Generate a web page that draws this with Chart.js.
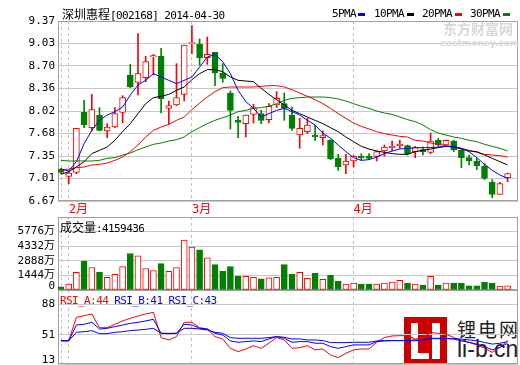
<!DOCTYPE html>
<html>
<head>
<meta charset="utf-8">
<script src="https://cdn.jsdelivr.net/npm/chart.js@4.4.1/dist/chart.umd.min.js"></script>
<style>
body { margin: 0; width: 520px; height: 365px; overflow: hidden; background: #fff; position: relative; }
canvas { position: absolute; left: 0; z-index: 1; }
.t { position: absolute; white-space: nowrap; font-family: 'DejaVu Sans Mono', monospace; font-size: 11px; line-height: 13px; letter-spacing: -0.6px; z-index: 2; }
.cjk { font-family: 'Noto Sans CJK SC', sans-serif; font-size: 12px; letter-spacing: 0; }
.mk { position: absolute; width: 7px; height: 3px; top: 13px; z-index: 2; }
.logo { position: absolute; z-index: 0; }
</style>
</head>
<body>

<div class="t" style="left:62px;top:7px"><span class="cjk">深圳惠程</span>[002168] 2014-04-30</div>
<div class="t" style="left:332px;top:7px">5PMA</div><div class="mk" style="left:358px;background:#0000ff"></div>
<div class="t" style="left:374px;top:7px">10PMA</div><div class="mk" style="left:407px;background:#000"></div>
<div class="t" style="left:422px;top:7px">20PMA</div><div class="mk" style="left:455px;background:#ff0000"></div>
<div class="t" style="left:470px;top:7px">30PMA</div><div class="mk" style="left:503px;background:#008000"></div>
<div class="t" style="left:443px;top:22px;font-family:'Noto Sans CJK SC';font-size:14px;font-weight:bold;letter-spacing:0;color:#d8d8d8">东方财富网</div>
<div class="t" style="left:440px;top:37px;font-family:'DejaVu Sans';font-size:9px;font-weight:bold;letter-spacing:0;color:#d8d8d8">eastmoney.com</div>

<div class="t" style="left:60px;top:220px"><span class="cjk">成交量</span>:4159436</div>
<div class="t" style="left:60px;top:294px"><span style="color:#ff0000">RSI_A:44</span> <span style="color:#0000ff">RSI_B:41 RSI_C:43</span></div>

<div class="logo" style="left:404px;top:317px;width:43px;height:48px;background:#cc0000"></div>
<div class="logo" style="left:411px;top:323px;width:7px;height:36px;background:#fff"></div>
<div class="logo" style="left:411px;top:353px;width:18px;height:6px;background:#fff"></div>
<div class="logo" style="left:432px;top:323px;width:8px;height:36px;background:#fff"></div>
<div class="logo" style="left:457px;top:315px;font-family:'Noto Sans CJK SC';font-size:19px;letter-spacing:2px;color:#222;white-space:nowrap">锂电网</div>
<div class="logo" style="left:457px;top:336px;font-family:'Liberation Sans';font-size:23px;color:#222;white-space:nowrap">li-b.cn</div>

<canvas id="price" width="520" height="218" style="top:0"></canvas>
<canvas id="vol" width="520" height="97" style="top:205px"></canvas>
<canvas id="rsi" width="520" height="98" style="top:278px"></canvas>

<script>
// daily candles, 2014-01-30 .. 2014-04-30
var openP  = [7.15,7.04,7.10,8.00,7.77,7.96,7.72,7.78,8.00,8.56, 8.45,8.52,8.83,8.84,8.06,8.11,8.27,9.03,9.02,8.82,
              8.90,8.59,8.29,7.88,7.83,7.97,7.98,7.89,8.11,8.13, 7.96,7.66,7.71,7.66,7.62,7.58,7.31,7.21,7.27,7.34,
              7.34,7.34,7.42,7.47,7.50,7.50,7.41,7.44,7.40,7.58, 7.51,7.57,7.43,7.32,7.27,7.19,6.95,6.77,7.02];
var highP  = [7.16,7.12,7.76,8.18,8.27,8.07,7.83,8.07,8.25,8.72, 9.18,8.84,8.87,8.96,8.17,8.73,9.01,9.30,9.10,9.13,
              8.90,8.73,8.32,7.94,7.96,8.12,8.03,8.13,8.31,8.29, 8.08,7.91,7.91,7.81,7.72,7.59,7.37,7.37,7.35,7.38,
              7.38,7.42,7.51,7.57,7.58,7.51,7.49,7.48,7.69,7.61, 7.58,7.58,7.44,7.36,7.31,7.23,6.99,6.95,7.09];
var lowP   = [7.08,6.93,7.08,7.77,7.72,7.72,7.62,7.77,7.84,8.37, 8.26,8.46,8.56,7.99,7.82,8.10,8.17,8.88,8.71,8.72,
              8.40,8.45,7.75,7.62,7.63,7.84,7.83,7.84,8.07,7.88, 7.73,7.46,7.68,7.58,7.51,7.29,7.13,7.08,7.18,7.28,
              7.29,7.27,7.34,7.42,7.46,7.36,7.32,7.36,7.38,7.49, 7.48,7.41,7.17,7.21,7.14,6.99,6.72,6.77,6.96];
var closeP = [7.10,7.09,7.76,7.81,8.04,7.73,7.78,7.98,8.22,8.38, 8.58,8.76,8.85,8.20,8.10,8.22,9.01,9.04,8.82,8.87,
              8.59,8.51,8.03,7.85,7.96,8.07,7.88,8.09,8.21,8.06, 7.76,7.76,7.81,7.63,7.65,7.30,7.18,7.27,7.34,7.32,
              7.31,7.41,7.48,7.49,7.52,7.38,7.47,7.41,7.57,7.51, 7.58,7.44,7.32,7.27,7.20,7.01,6.77,6.93,7.08];

var ma5  = [7.15,7.12,7.26,7.53,7.73,7.88,7.96,8.01,8.08,8.26, 8.41,8.48,8.58,8.53,8.48,8.43,8.48,8.53,8.68,8.83,
            8.87,8.76,8.58,8.33,8.16,8.06,7.93,7.98,8.03,8.06, 8.01,7.96,7.88,7.81,7.69,7.61,7.51,7.41,7.32,7.28,
            7.29,7.33,7.38,7.42,7.45,7.46,7.47,7.47,7.47,7.48, 7.49,7.49,7.46,7.41,7.32,7.22,7.13,7.06,7.01];
var ma10 = [7.07,7.11,7.18,7.26,7.38,7.43,7.48,7.58,7.71,7.83, 7.98,8.13,8.22,8.24,8.27,8.33,8.38,8.49,8.58,8.64,
            8.64,8.61,8.53,8.48,8.47,8.46,8.36,8.27,8.19,8.11, 8.03,7.98,7.93,7.88,7.83,7.77,7.71,7.63,7.56,7.49,
            7.45,7.42,7.40,7.38,7.37,7.37,7.41,7.43,7.45,7.47, 7.49,7.48,7.45,7.42,7.41,7.36,7.31,7.26,7.21];
var ma20 = [7.13,7.15,7.17,7.18,7.21,7.22,7.24,7.28,7.33,7.41, 7.51,7.63,7.73,7.78,7.82,7.88,7.93,8.04,8.14,8.23,
            8.31,8.37,8.38,8.38,8.38,8.38,8.39,8.40,8.40,8.38, 8.34,8.29,8.24,8.19,8.13,8.06,7.98,7.91,7.84,7.79,
            7.75,7.71,7.68,7.66,7.64,7.63,7.58,7.57,7.54,7.52, 7.50,7.48,7.46,7.43,7.40,7.37,7.36,7.35,7.33];
var ma30 = [7.28,7.27,7.27,7.27,7.27,7.28,7.31,7.32,7.36,7.39, 7.44,7.48,7.52,7.54,7.57,7.59,7.63,7.71,7.77,7.83,
            7.88,7.92,7.96,8.01,8.03,8.06,8.07,8.09,8.13,8.18, 8.21,8.22,8.23,8.23,8.23,8.22,8.20,8.17,8.13,8.09,
            8.06,8.02,7.99,7.97,7.93,7.89,7.86,7.81,7.74,7.69, 7.66,7.63,7.61,7.58,7.56,7.52,7.49,7.46,7.42];

// volume in 万 shares
var volume = [321,578,1733,2824,2214,1733,1251,1540,2310,3594, 3370,2118,1925,2599,1829,2214,4910,4236,3947,3177,
              2503,1829,2310,1348,1348,1251,1091,1187,1251,2503, 1540,1733,1155,1637,1059,1444,866,578,674,578,
              578,578,674,770,963,674,578,481,1348,481, 674,674,674,417,417,770,674,385,416];

var rsiA = [44,44,72.3,74.3,76.3,59.8,59.8,63.9,67.9,71.1, 73.9,76.3,78.3,47.8,45,49,66.3,66.3,59.8,58.2,
            49,46.2,34.9,30.9,34.1,38.1,34.9,41,47.8,45, 34.9,35.7,38.1,33,34.1,26.9,23.7,28.9,33,34.1,
            34.1,42.2,47.8,49.8,50.2,50,46,48,54,53, 52,48,44,42,39,35,30,36,44];
var rsiB = [44,44,63,63.9,66.3,58.2,59,61,63,65, 66.3,67.9,69.9,53,52.6,53,63.9,63,59,58.2,
            53,51,43.8,42.2,43,43.8,43,46.2,49,47, 42.2,43,43,41,41,37,34.9,37,39,39,
            39,43,43.8,44.2,44.2,44,44,45,47,47, 47,46,44,42,40,37,33,36,41];
var rsiC = [44,44,54.2,55,56.2,52.6,52.6,54.2,55,56.2, 57,57.8,59,53,53,53,59,59,58.2,57,
            54.2,53,47.8,47,47,47,47,47.8,49,48.2, 46.2,46.2,45,45,44.2,41.8,41.8,41.8,42.2,42.2,
            42.2,43.8,44.2,44.2,44.2,44.5,45,45,46.5,46.5, 46.5,46.5,46,45,44,42,40,41,43];

// axis ticks
var monthTickPos = [0, 1, 17, 38];
var monthLabels = ['', '2月', '3月', '4月'];
var priceTickVals = [6.67, 7.0075, 7.345, 7.6825, 8.02, 8.3575, 8.695, 9.0325, 9.37];
var priceTickLabels = ['6.67', '7.01', '7.35', '7.68', '8.02', '8.36', '8.70', '9.03', '9.37'];
var volTickVals = [0, 1444, 2888, 4332, 5776];
var volTickLabels = [['0', ''], '1444万', '2888万', '4332万', '5776万'];
var rsiTickVals = [16, 51, 88];
var rsiTickLabels = [['13', ''], '51', '88'];

var RED = '#ff0000', GREEN = '#008000', BLUE = '#0000ff';

Chart.defaults.font.family = "'DejaVu Sans Mono', 'Noto Sans CJK SC', monospace";
Chart.defaults.font.size = 11;
Chart.defaults.color = '#000';

var up = closeP.map(function (c, i) { return c >= openP[i]; });
var fill = up.map(function (u) { return u ? '#ffffff' : GREEN; });
var edge = up.map(function (u) { return u ? RED : GREEN; });

function pts(arr) {
    return arr.map(function (v, i) { return { x: i, y: v }; });
}

var framePlugin = {
    id: 'frame',
    beforeDatasetsDraw: function (chart) {
        var a = chart.chartArea, ctx = chart.ctx;
        ctx.save();
        ctx.strokeStyle = '#a0a0a0';
        ctx.lineWidth = 1;
        ctx.strokeRect(Math.round(a.left) + 0.5, Math.round(a.top) + 0.5,
            Math.round(a.right - a.left) - 1, Math.round(a.bottom - a.top) - 1);
        ctx.restore();
    }
};

function xScale(showLabels) {
    return {
        type: 'linear',
        min: -0.39,
        max: 59.35,
        offset: false,
        afterBuildTicks: function (s) { s.ticks = monthTickPos.map(function (v) { return { value: v }; }); },
        afterFit: function (s) { s.height = showLabels ? 17 : 0; },
        grid: { color: '#c0c0c0', drawTicks: false, offset: false },
        border: { display: false, dash: [3, 3] },
        ticks: {
            display: showLabels,
            autoSkip: false,
            maxRotation: 0,
            align: 'start',
            padding: 2,
            color: RED,
            font: { size: 12 },
            callback: function (v, i) { return monthLabels[i]; }
        }
    };
}

function yScale(min, max, vals, labels) {
    return {
        min: min,
        max: max,
        afterBuildTicks: function (s) { s.ticks = vals.map(function (v) { return { value: v }; }); },
        afterFit: function (s) { s.width = 58; },
        grid: { color: '#c8c8c8', drawTicks: false },
        border: { display: false },
        ticks: {
            autoSkip: false,
            padding: 3,
            color: '#000',
            font: { lineHeight: '8px' },
            callback: function (v, i) { return labels[i]; }
        }
    };
}

var common = {
    responsive: false,
    animation: false,
    devicePixelRatio: 1,
    events: [],
    plugins: { legend: { display: false }, tooltip: { enabled: false } }
};

function opts(extra) {
    return Object.assign({}, common, extra);
}

function maLine(arr, color) {
    return { type: 'line', data: pts(arr), borderColor: color, borderWidth: 1, pointRadius: 0, tension: 0, order: 0 };
}

new Chart(document.getElementById('price'), {
    type: 'bar',
    data: {
        datasets: [
            maLine(ma5, BLUE),
            maLine(ma10, '#000000'),
            maLine(ma20, RED),
            maLine(ma30, GREEN),
            {
                data: openP.map(function (o, i) { return { x: i, y: [o, closeP[i]] }; }),
                backgroundColor: fill,
                borderColor: edge,
                borderWidth: 1,
                borderSkipped: false,
                barThickness: 6,
                minBarLength: 1,
                grouped: false,
                order: 1
            },
            {
                data: lowP.map(function (l, i) { return { x: i, y: [l, highP[i]] }; }),
                backgroundColor: edge,
                borderWidth: 0,
                barThickness: 1,
                grouped: false,
                order: 2
            }
        ]
    },
    options: opts({
        layout: { padding: { top: 21, right: 2, left: 0, bottom: 0 } },
        scales: {
            x: xScale(true),
            y: yScale(6.67, 9.37, priceTickVals, priceTickLabels)
        }
    }),
    plugins: [framePlugin]
});

new Chart(document.getElementById('vol'), {
    type: 'bar',
    data: {
        datasets: [{
            data: pts(volume),
            backgroundColor: fill,
            borderColor: edge,
            borderWidth: 1,
            borderSkipped: false,
            barThickness: 6,
            grouped: false
        }]
    },
    options: opts({
        layout: { padding: { top: 12, right: 2, left: 0, bottom: 12 } },
        scales: {
            x: xScale(false),
            y: yScale(0, 7191, volTickVals, volTickLabels)
        }
    }),
    plugins: [framePlugin]
});

new Chart(document.getElementById('rsi'), {
    type: 'line',
    data: {
        datasets: [
            { data: pts(rsiC), borderColor: BLUE, borderWidth: 1, pointRadius: 0, tension: 0 },
            { data: pts(rsiB), borderColor: BLUE, borderWidth: 1, pointRadius: 0, tension: 0 },
            { data: pts(rsiA), borderColor: RED, borderWidth: 1, pointRadius: 0, tension: 0 }
        ]
    },
    options: opts({
        layout: { padding: { top: 12, right: 2, left: 0, bottom: 12 } },
        scales: {
            x: xScale(false),
            y: yScale(16, 105.2, rsiTickVals, rsiTickLabels)
        }
    }),
    plugins: [framePlugin]
});
</script>
</body>
</html>
